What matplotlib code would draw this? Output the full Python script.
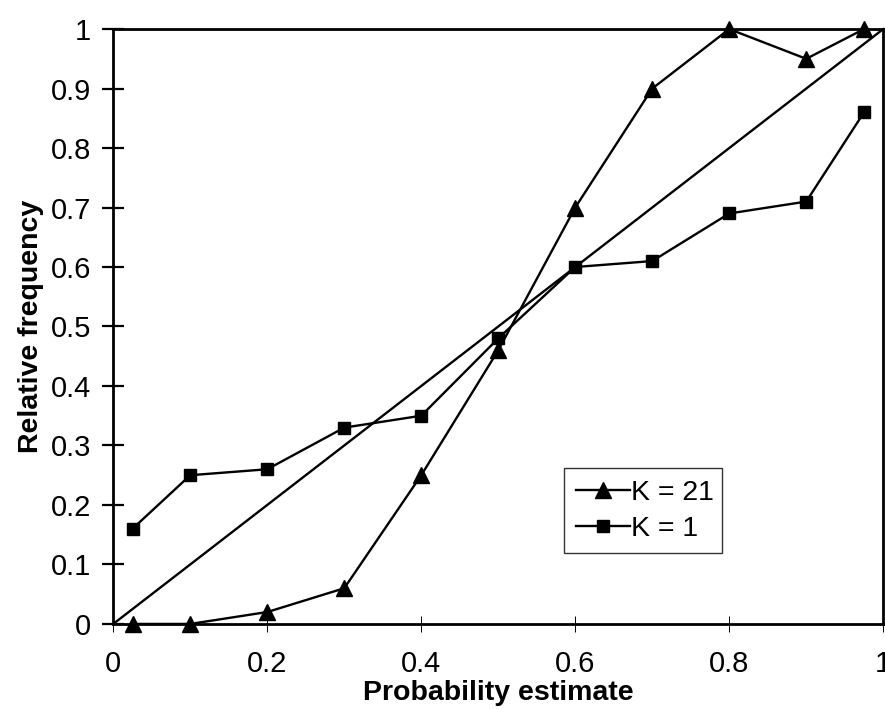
import matplotlib
matplotlib.use("Agg")
import matplotlib.pyplot as plt

plt.rcParams['font.family'] = ['Liberation Sans', 'DejaVu Sans']

x_est = [0.025, 0.1, 0.2, 0.3, 0.4, 0.5, 0.6, 0.7, 0.8, 0.9, 0.975]
k21 = [0.0, 0.0, 0.02, 0.06, 0.25, 0.46, 0.70, 0.90, 1.0, 0.95, 1.0]
k1 = [0.16, 0.25, 0.26, 0.33, 0.35, 0.48, 0.60, 0.61, 0.69, 0.71, 0.86]
diag = [0, 1]
xticks = [0, 0.2, 0.4, 0.6, 0.8, 1]
xticklabels = ['0', '0.2', '0.4', '0.6', '0.8', '1']
yticks = [0, 0.1, 0.2, 0.3, 0.4, 0.5, 0.6, 0.7, 0.8, 0.9, 1]
yticklabels = ['0', '0.1', '0.2', '0.3', '0.4', '0.5', '0.6', '0.7', '0.8', '0.9', '1']

fig = plt.figure(figsize=(8.85, 7.09), dpi=100)
ax = fig.add_axes([0.128, 0.120, 0.870, 0.839])

ax.plot(diag, diag, color='black', lw=1.7, clip_on=False)
ax.plot(x_est, k21, color='black', lw=1.7, marker='^', markersize=11,
        label='K = 21', clip_on=False, zorder=3)
ax.plot(x_est, k1, color='black', lw=1.7, marker='s', markersize=9,
        label='K = 1', clip_on=False, zorder=3)

ax.set_xlim(0, 1)
ax.set_ylim(0, 1)
ax.set_xticks(xticks)
ax.set_xticklabels(xticklabels)
ax.set_yticks(yticks)
ax.set_yticklabels(yticklabels)
ax.tick_params(axis='x', direction='inout', length=12, width=0.7, labelsize=21, pad=13)
ax.tick_params(axis='y', direction='inout', length=16, width=1.6, labelsize=21, pad=8)
for s in ax.spines.values():
    s.set_linewidth(2.0)

ax.set_xlabel('Probability estimate', fontsize=20.5, fontweight='bold', labelpad=1)
ax.set_ylabel('Relative frequency', fontsize=20.5, fontweight='bold', labelpad=5)

leg = ax.legend(loc='lower left', bbox_to_anchor=(0.586, 0.119, 0.205, 0.143),
                mode='expand', fontsize=20.5, frameon=True, fancybox=False,
                handlelength=1.9, handletextpad=0.05, borderpad=0.4,
                labelspacing=0.35, borderaxespad=0)
leg.get_frame().set_edgecolor('black')
leg.get_frame().set_linewidth(1.0)

fig.savefig('out.png', dpi=100)
